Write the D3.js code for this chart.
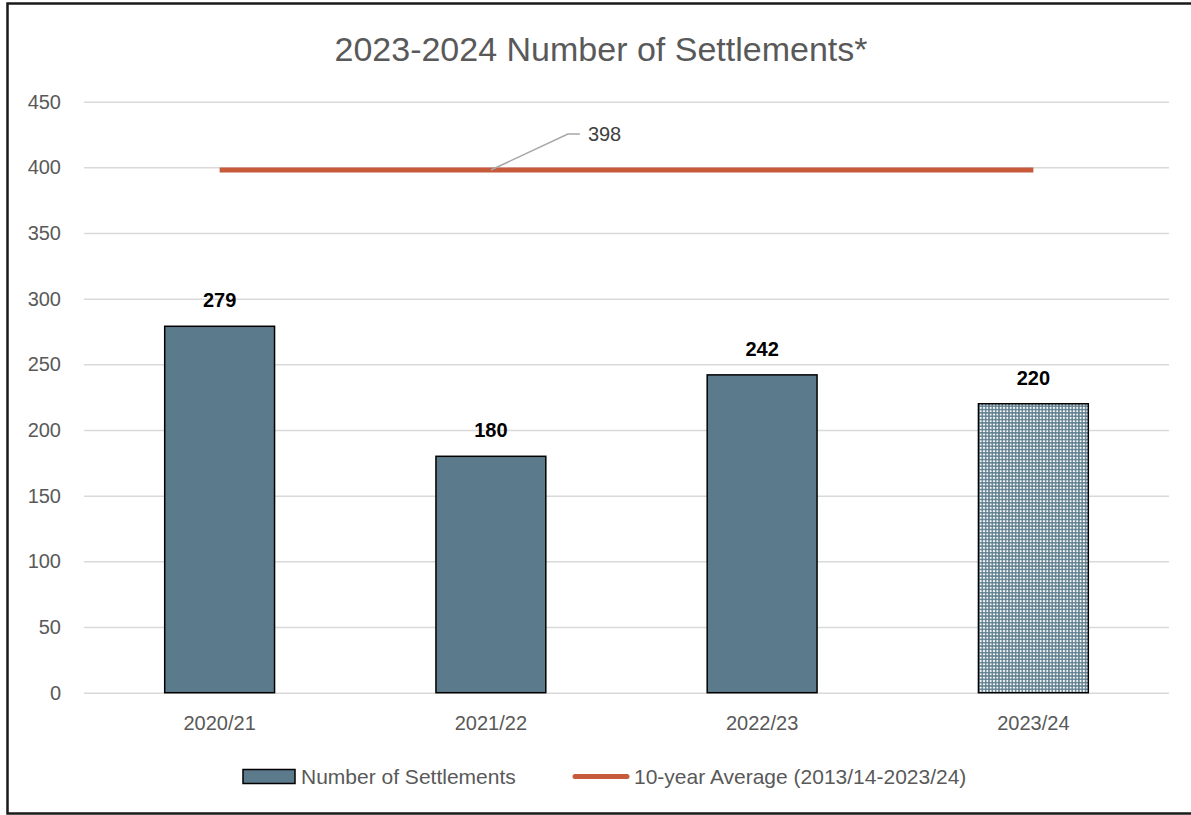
<!DOCTYPE html>
<html>
<head>
<meta charset="utf-8">
<script src="https://cdn.jsdelivr.net/npm/d3@7"></script>
<style>
  html, body { margin: 0; padding: 0; background: #fff; overflow: hidden; }
  svg { display: block; }
</style>
</head>
<body>
<svg id="chart" width="1191" height="815"></svg>
<script>
// Settlement counts by fiscal year
const categories = ["2020/21", "2021/22", "2022/23", "2023/24"];
const settlements = [279, 180, 242, 220];
// Years whose figure is still provisional (drawn with a dotted fill)
const provisional = ["2023/24"];
// Ten-year average, drawn across the same categories
const tenYearAverage = [398, 398, 398, 398];
const yTicks = [0, 50, 100, 150, 200, 250, 300, 350, 400, 450];
const titleText = "2023-2024 Number of Settlements*";
const seriesNames = ["Number of Settlements", "10-year Average (2013/14-2023/24)"];

const barColor = "#5B7B8C";
const avgColor = "#C65A3B";
const textGray = "#595959";
const gridGray = "#D9D9D9";

const svg = d3.select("#chart");

// Chart frame: left, top and bottom edges (the right edge runs off the page)
svg.append("path")
  .attr("d", d3.line()([[1200, 3.5], [7.5, 3.5], [7.5, 813.5], [1200, 813.5]]))
  .attr("fill", "none")
  .attr("stroke", "#1a1a1a").attr("stroke-width", 2.5);

// Dotted fill for provisional bars
const defs = svg.append("defs");
const pat = defs.append("pattern")
  .attr("id", "dots")
  .attr("patternUnits", "userSpaceOnUse")
  .attr("width", 3.33).attr("height", 3.33);
pat.append("rect").attr("width", 3.33).attr("height", 3.33).attr("fill", barColor);
pat.append("rect").attr("x", 0.7).attr("y", 0.7).attr("width", 1.9).attr("height", 1.9).attr("fill", "#fff");

const plot = { left: 84, right: 1169, top: 101.7, bottom: 692.7 };

const x = d3.scaleBand()
  .domain(categories)
  .range([plot.left, plot.right])
  .paddingInner(0.595)
  .paddingOuter(0.2975);

const y = d3.scaleLinear()
  .domain([0, 450])
  .range([plot.bottom, plot.top]);

// Title
svg.append("text")
  .attr("x", 601).attr("y", 61)
  .attr("text-anchor", "middle")
  .attr("font-family", "'Liberation Sans', Arial, sans-serif")
  .attr("font-size", 34)
  .attr("fill", textGray)
  .text(titleText);

// Gridlines and y-axis labels
const yAxis = d3.axisLeft(y)
  .tickValues(yTicks)
  .tickSize(-(plot.right - plot.left))
  .tickPadding(23);
const yg = svg.append("g")
  .attr("transform", `translate(${plot.left},0)`)
  .call(yAxis);
yg.select(".domain").remove();
yg.selectAll(".tick line").attr("stroke", gridGray).attr("stroke-width", 1.5);
yg.selectAll(".tick text")
  .attr("font-family", "'Liberation Sans', Arial, sans-serif")
  .attr("font-size", 20)
  .attr("fill", textGray);

// Bars
svg.append("g").selectAll("rect")
  .data(categories.map((c, i) => ({ c, v: settlements[i] })))
  .join("rect")
  .attr("x", d => x(d.c))
  .attr("y", d => y(d.v))
  .attr("width", x.bandwidth())
  .attr("height", d => y(0) - y(d.v))
  .attr("fill", d => provisional.includes(d.c) ? "url(#dots)" : barColor)
  .attr("stroke", "#000")
  .attr("stroke-width", 1.5);

// Bar value labels
svg.append("g").selectAll("text")
  .data(categories.map((c, i) => ({ c, v: settlements[i] })))
  .join("text")
  .attr("x", d => x(d.c) + x.bandwidth() / 2)
  .attr("y", d => y(d.v) - 19)
  .attr("text-anchor", "middle")
  .attr("font-family", "'Liberation Sans', Arial, sans-serif")
  .attr("font-weight", "bold")
  .attr("font-size", 20)
  .attr("fill", "#000")
  .text(d => d.v);

// X-axis category labels
const xAxis = d3.axisBottom(x).tickSize(0).tickPadding(23);
const xg = svg.append("g")
  .attr("transform", `translate(0,${plot.bottom})`)
  .call(xAxis);
xg.select(".domain").remove();
xg.selectAll(".tick text")
  .attr("font-family", "'Liberation Sans', Arial, sans-serif")
  .attr("font-size", 20)
  .attr("fill", textGray);

// Ten-year average line
const cx = c => x(c) + x.bandwidth() / 2;
const line = d3.line()
  .x((d, i) => cx(categories[i]))
  .y(d => y(d));
svg.append("path")
  .datum(tenYearAverage)
  .attr("d", line)
  .attr("fill", "none")
  .attr("stroke", avgColor)
  .attr("stroke-width", 5);

// Callout for the average value, anchored on the second category
const avgVal = tenYearAverage[1];
const lx = cx(categories[1]);
const ly = y(avgVal);
svg.append("path")
  .attr("d", d3.line()([[lx, ly], [lx + 77, ly - 36], [lx + 89, ly - 36]]))
  .attr("fill", "none")
  .attr("stroke", "#A6A6A6")
  .attr("stroke-width", 1.5);
svg.append("text")
  .attr("x", lx + 97).attr("y", ly - 36 + 7)
  .attr("font-family", "'Liberation Sans', Arial, sans-serif")
  .attr("font-size", 20)
  .attr("fill", "#404040")
  .text(avgVal);

// Legend
const legY = 776.5;
svg.append("rect")
  .attr("x", 243).attr("y", legY - 7)
  .attr("width", 52).attr("height", 14)
  .attr("fill", barColor)
  .attr("stroke", "#000").attr("stroke-width", 1.5);
svg.append("text")
  .attr("x", 301).attr("y", legY + 7.5)
  .attr("font-family", "'Liberation Sans', Arial, sans-serif")
  .attr("font-size", 21)
  .attr("fill", textGray)
  .text(seriesNames[0]);
svg.append("line")
  .attr("x1", 575).attr("x2", 627)
  .attr("y1", legY).attr("y2", legY)
  .attr("stroke", avgColor).attr("stroke-width", 5)
  .attr("stroke-linecap", "round");
svg.append("text")
  .attr("x", 634).attr("y", legY + 7.5)
  .attr("font-family", "'Liberation Sans', Arial, sans-serif")
  .attr("font-size", 21)
  .attr("fill", textGray)
  .text(seriesNames[1]);
</script>
</body>
</html>
